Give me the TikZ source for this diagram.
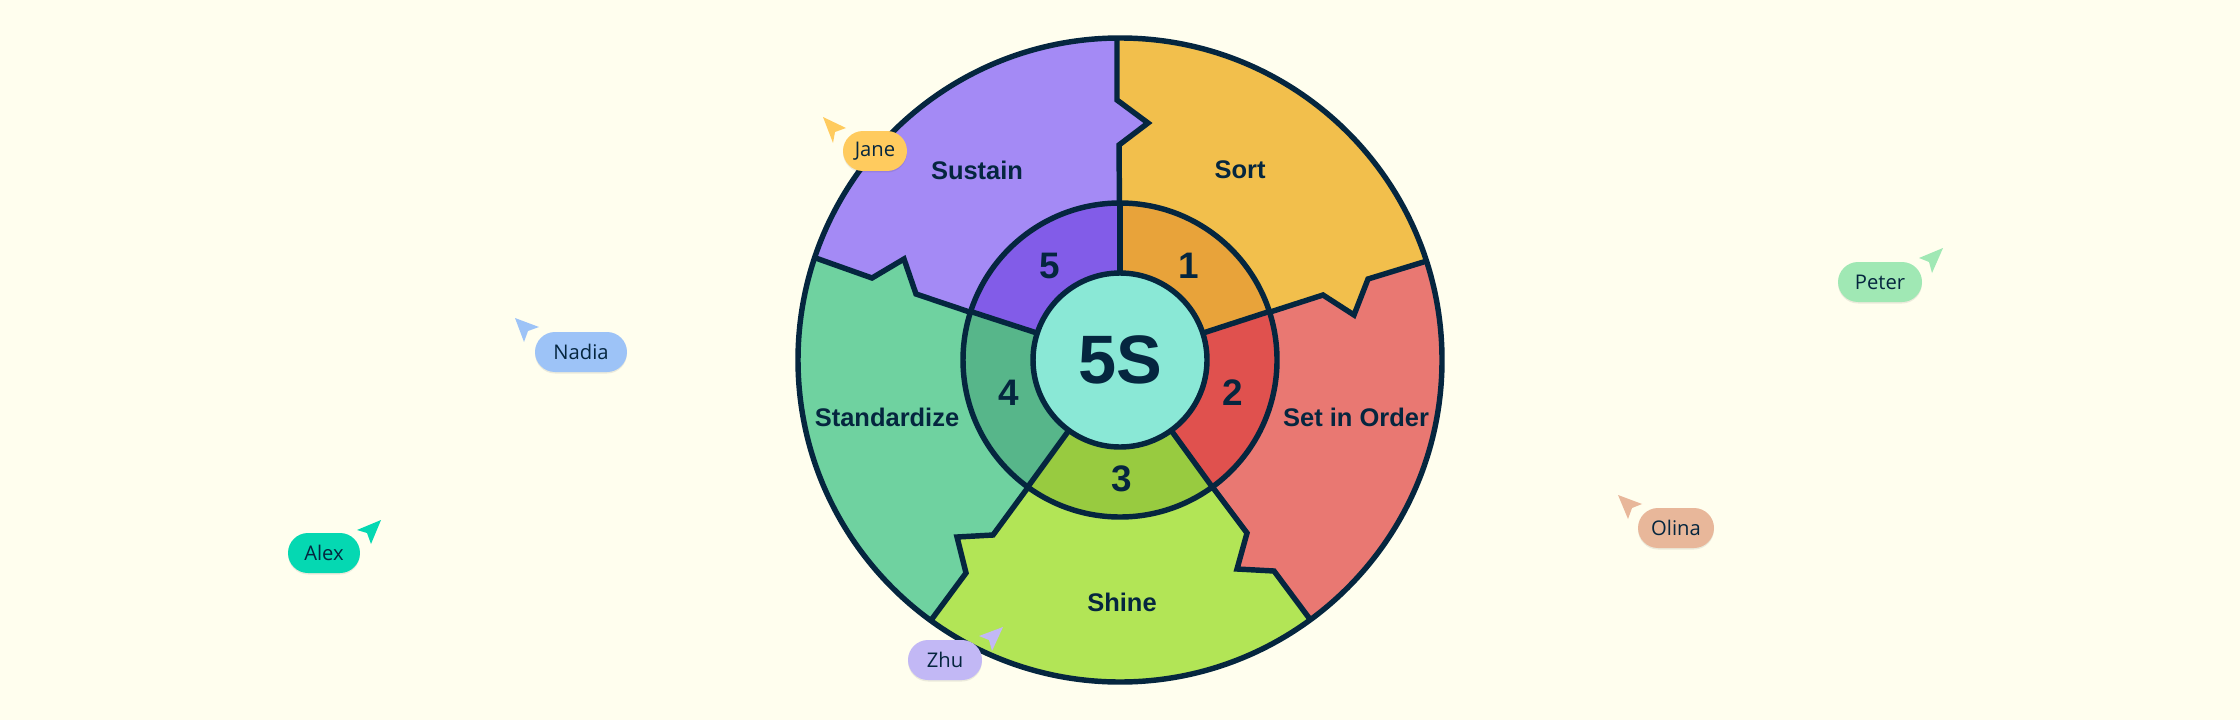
\documentclass[tikz,border=0pt]{standalone}
\usepackage{fontspec}
\setmainfont{Open Sans}
\newfontfamily\labelfont{Liberation Sans}
\usetikzlibrary{shadows}

\definecolor{paper}{HTML}{FFFEEE}
\definecolor{ink}{HTML}{05263F}
\definecolor{sortlight}{HTML}{F2BF4C}
\definecolor{sortdark}{HTML}{E8A33A}
\definecolor{orderlight}{HTML}{E97872}
\definecolor{orderdark}{HTML}{E0514E}
\definecolor{shinelight}{HTML}{B2E556}
\definecolor{shinedark}{HTML}{98CB40}
\definecolor{standlight}{HTML}{6FD2A0}
\definecolor{standdark}{HTML}{57B68A}
\definecolor{sustlight}{HTML}{A48AF5}
\definecolor{sustdark}{HTML}{825CE8}
\definecolor{hub}{HTML}{8AE8D6}
\definecolor{janecolor}{HTML}{FFCB5E}
\definecolor{nadiacolor}{HTML}{9DC3F7}
\definecolor{alexcolor}{HTML}{05D8B2}
\definecolor{petercolor}{HTML}{A0E8B4}
\definecolor{olinacolor}{HTML}{E8B79A}
\definecolor{zhucolor}{HTML}{C2B8F5}

\tikzset{
    ringline/.style={ink, line width=3.1pt, line join=miter},
    sectorlabel/.style={font=\labelfont\bfseries\fontsize{14.5pt}{16pt}\selectfont, text=ink},
    numberlabel/.style={font=\labelfont\bfseries\fontsize{21pt}{24pt}\selectfont, text=ink},
    namepill/.style={rounded corners=0.4cm, inner sep=0pt, minimum height=0.8cm,
        font=\fontsize{11.5pt}{13pt}\selectfont, text=ink,
        general shadow={shadow yshift=-0.03cm, fill=black, opacity=0.08}},
}

\begin{document}
\begin{tikzpicture}

% reference pixels, scaled by the unit vectors
\begin{scope}[x=0.02cm, y=-0.02cm]

    \fill[paper] (0,0) rectangle (2240,720);
    \useasboundingbox (0,0) rectangle (2240,720);

    % ------------------------------------------------------------ outer sectors
    \begin{scope}
        \clip (1120,360) circle (322);
        \fill[sortlight] (1120,360) -- (1120,145) -- (1118,145) -- (1148,123) -- (1117,100)
            -- (1117,20) -- (1460,20) -- (1460,255) -- (1423,262) -- (1368,279)
            -- (1354,315) -- (1323,295) -- (1270,312) -- cycle;
        \fill[orderlight] (1120,360) -- (1270,312) -- (1323,295) -- (1354,315) -- (1368,279)
            -- (1423,262) -- (1460,250) -- (1460,700) -- (1325,640) -- (1309,618)
            -- (1274,571) -- (1237,569) -- (1247,533) -- (1212,488) -- cycle;
        \fill[shinelight] (1120,360) -- (1212,488) -- (1247,533) -- (1237,569) -- (1274,571)
            -- (1309,618) -- (1330,650) -- (1330,700) -- (915,700) -- (915,640)
            -- (932,619) -- (966,573) -- (957,537) -- (993,535) -- (1028,488) -- cycle;
        \fill[standlight] (1120,360) -- (1028,488) -- (993,535) -- (957,537) -- (966,573)
            -- (932,619) -- (915,640) -- (780,640) -- (780,252) -- (817,259)
            -- (872,278) -- (904,259) -- (916,294) -- (970,313) -- cycle;
        \fill[sustlight] (1120,360) -- (970,313) -- (916,294) -- (904,259) -- (872,278)
            -- (817,259) -- (780,245) -- (780,20) -- (1117,20) -- (1117,100)
            -- (1148,123) -- (1118,145) -- cycle;

        % the jagged borders between them
        \draw[ringline] (1120,273) -- (1119,145) -- (1148,123) -- (1117,100) -- (1117,30);
        \draw[ringline] (1205,333) -- (1323,295) -- (1354,315) -- (1368,279) -- (1430,260);
        \draw[ringline] (1172,433) -- (1247,533) -- (1237,569) -- (1274,571) -- (1315,626);
        \draw[ringline] (1068,433) -- (993,535) -- (957,537) -- (966,573) -- (926,627);
        \draw[ringline] (1035,334) -- (916,294) -- (904,259) -- (872,278) -- (810,256);
    \end{scope}

    % ------------------------------------------------------------ middle ring
    \begin{scope}
        \clip (1120,360) circle (157);
        \begin{scope}[shift={(1120,360)}]
            \foreach \a/\c in {-90/sortdark, -18/orderdark, 54/shinedark,
                               126/standdark, 198/sustdark} {
                \fill[\c] (0,0) -- (\a:180) -- (\a+36:240) -- (\a+72:180) -- cycle;
            }
            \foreach \a in {-90, -18, 54, 126, 198} {
                \draw[ringline] (0,0) -- (\a:180);
            }
        \end{scope}
    \end{scope}
    \draw[ringline] (1120,360) circle (157);
    \draw[ringline] (1120,360) circle (322);

    % ------------------------------------------------------------ hub
    \draw[ringline, fill=hub] (1120,360) circle (87);
    \node[font=\labelfont\bfseries\fontsize{39pt}{42pt}\selectfont, text=ink]
        (title) at (1120,360) {5S};

    % ------------------------------------------------------------ labels
    \node[sectorlabel] (sustain) at (977,170) {Sustain};
    \node[sectorlabel] (sort) at (1240,170) {Sort};
    \node[sectorlabel] (standardize) at (887,417) {Standardize};
    \node[sectorlabel] (setinorder) at (1356,417) {Set in Order};
    \node[sectorlabel] (shine) at (1122,602) {Shine};

    \node[numberlabel] (one) at (1189,266) {1};
    \node[numberlabel] (two) at (1233,393) {2};
    \node[numberlabel] (three) at (1122,479) {3};
    \node[numberlabel] (four) at (1009,393) {4};
    \node[numberlabel] (five) at (1050,266) {5};

    % ------------------------------------------------------------ cursors
    \foreach \name/\c/\px/\py/\w/\tip/\wa/\notch/\wb in {
        Jane/janecolor/875/151/1.28/{(823,117)}/{(846,128)}/{(835,132)}/{(833,143)},
        Nadia/nadiacolor/581/352/1.84/{(515,318)}/{(539,327)}/{(528,331)}/{(524,342)},
        Alex/alexcolor/324/553/1.44/{(381,520)}/{(357,530)}/{(367,533)}/{(371,544)},
        Peter/petercolor/1880/282/1.68/{(1943,248)}/{(1919,258)}/{(1929,262)}/{(1932,273)},
        Olina/olinacolor/1676/528/1.52/{(1618,495)}/{(1642,504)}/{(1632,508)}/{(1628,519)},
        Zhu/zhucolor/945/660/1.48/{(1003,627)}/{(979,636)}/{(989,640)}/{(992,651)}} {
        \fill[\c] \tip -- \wa -- \notch -- \wb -- cycle;
        \node[namepill, fill=\c, minimum width=\w cm] (\name) at (\px,\py) {\name};
    }

\end{scope}

\end{tikzpicture}
\end{document}
